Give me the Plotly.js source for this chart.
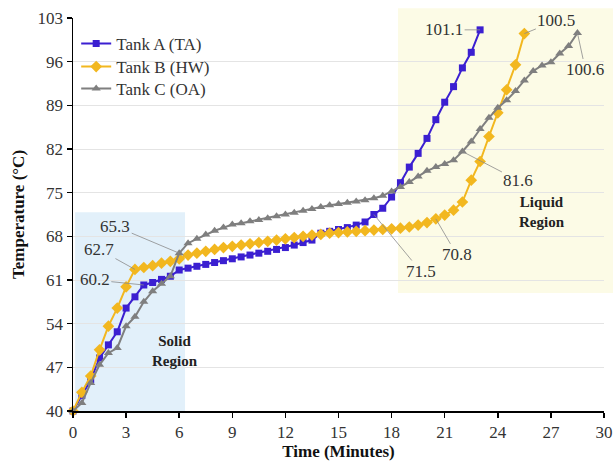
<!DOCTYPE html>
<html>
<head>
<meta charset="utf-8">
<script src="https://cdn.plot.ly/plotly-3.0.1.min.js"></script>
<style>html,body{margin:0;padding:0;background:#fff;}#chart{width:616px;height:462px;}</style>
</head>
<body>
<div id="chart"></div>
<script>
var seriesNames = ["Tank A (TA)", "Tank B (HW)", "Tank C (OA)"];

var timeA = [0,0.5,1,1.5,2,2.5,3,3.5,4,4.5,5,5.5,6,6.5,7,7.5,8,8.5,9,9.5,10,10.5,11,11.5,12,12.5,13,13.5,14,14.5,15,15.5,16,16.5,17,17.5,18,18.5,19,19.5,20,20.5,21,21.5,22,22.5,23];
var tempA = [40,42.5,45,48.5,50.6,52.7,56.5,58.3,60.2,60.6,61.1,61.6,62.6,62.9,63.2,63.5,63.8,64.1,64.4,64.7,65.0,65.3,65.6,65.9,66.2,66.6,67.0,67.4,68.5,68.8,69.1,69.4,69.8,70.3,71.5,72.5,74.3,76.6,79.1,81.3,83.7,86.7,89.5,92.0,95.0,97.5,101.1];

var timeB = [0,0.5,1,1.5,2,2.5,3,3.5,4,4.5,5,5.5,6,6.5,7,7.5,8,8.5,9,9.5,10,10.5,11,11.5,12,12.5,13,13.5,14,14.5,15,15.5,16,16.5,17,17.5,18,18.5,19,19.5,20,20.5,21,21.5,22,22.5,23,23.5,24,24.5,25,25.5];
var tempB = [40,43,45.6,49.8,53.6,56.5,59.9,62.7,63.0,63.3,63.7,64.0,64.4,65.0,65.3,65.6,65.9,66.2,66.4,66.6,66.8,67.0,67.2,67.4,67.6,67.8,68.0,68.2,68.3,68.5,68.6,68.7,68.8,68.9,69.0,69.1,69.2,69.3,69.5,69.8,70.2,70.8,71.4,72.2,73.5,77.0,80.0,84.0,87.8,91.5,95.5,100.5];

var timeC = [0,0.5,1,1.5,2,2.5,3,3.5,4,4.5,5,5.5,6,6.5,7,7.5,8,8.5,9,9.5,10,10.5,11,11.5,12,12.5,13,13.5,14,14.5,15,15.5,16,16.5,17,17.5,18,18.5,19,19.5,20,20.5,21,21.5,22,22.5,23,23.5,24,24.5,25,25.5,26,26.5,27,27.5,28,28.5];
var tempC = [40,41.3,44.5,47.4,49.3,50.1,53.6,55.1,57.5,59.2,60.4,61.6,65.3,66.9,67.6,68.3,68.9,69.4,69.9,70.1,70.4,70.6,70.9,71.2,71.5,71.8,72.1,72.4,72.7,73.0,73.2,73.4,73.6,73.8,74.1,74.5,75.2,75.9,76.7,77.6,78.5,79.1,79.6,80.2,81.6,83.2,85.2,87.0,88.6,89.8,91.3,93.0,94.5,95.4,95.9,97.3,98.5,100.6];

var yTicks = [40,47,54,61,68,75,82,89,96,103];
var xTicks = [0,3,6,9,12,15,18,21,24,27,30];

// callout labels
var calloutTime   = [4, 3.5, 6, 17, 20.5, 22, 23, 25.5, 28.5];
var calloutValue  = [60.2, 62.7, 65.3, 71.5, 70.8, 81.6, 101.1, 100.5, 100.6];

var regionLabels = ["Solid<br>Region", "Liquid<br>Region"];

var colors = ["#3b1fd1", "#f2b71f", "#7f7f7f"];
var symbols = ["square", "diamond", "triangle-up"];
var msizes = [7, 9, 8];
var serif = "'Liberation Serif', 'Times New Roman', serif";
var legendIds = ["legend", "legend2", "legend3"];
var legendY = [(411-44)/393, (411-67)/393, (411-89)/393];

var xs = [timeA, timeB, timeC];
var ys = [tempA, tempB, tempC];
var traces = [];
for (var i = 0; i < 3; i++) {
  traces.push({
    x: xs[i], y: ys[i], name: seriesNames[i], type: "scatter", mode: "lines+markers",
    line: {color: colors[i], width: 2},
    marker: {color: colors[i], symbol: symbols[i], size: msizes[i]},
    cliponaxis: false, legend: legendIds[i]
  });
}

var offsets = [[-49,-5],[-36,-20],[-64,-27],[47,57],[21,36],[56,29],[-36,0],[32,-13],[8,37]];
var annotations = [];
for (var k = 0; k < calloutTime.length; k++) {
  annotations.push({
    x: calloutTime[k], y: calloutValue[k], xref: "x", yref: "y",
    text: String(calloutValue[k].toFixed(1)),
    showarrow: true, arrowhead: 0, arrowwidth: 0.8, arrowcolor: "#8a8a8a",
    ax: offsets[k][0], ay: offsets[k][1], standoff: 0,
    font: {family: serif, size: 17, color: "#333333"}
  });
}
annotations.push({
  xref: "paper", yref: "paper", x: (150-73)/531, y: (411-371)/393, text: regionLabels[0],
  showarrow: false, font: {family: serif, size: 15, color: "#222222", weight: "bold"}
});
annotations.push({
  xref: "paper", yref: "paper", x: (567-73)/531, y: (411-212)/393, text: regionLabels[1],
  showarrow: false, font: {family: serif, size: 15, color: "#222222", weight: "bold"}
});

var layout = {
  width: 616, height: 462,
  margin: {l: 73, r: 12, t: 18, b: 51},
  paper_bgcolor: "#ffffff",
  plot_bgcolor: "rgba(0,0,0,0)",
  font: {family: serif},
  showlegend: true,
  xaxis: {
    range: [0, 30], tickvals: xTicks, ticktext: xTicks.map(String),
    showgrid: false, zeroline: false, showline: true, linecolor: "#000", linewidth: 1.5,
    ticks: "outside", ticklen: 5, tickcolor: "#000", tickwidth: 1.5,
    tickfont: {family: serif, size: 17, color: "#333333"},
    title: {text: "Time (Minutes)", font: {family: serif, size: 17, color: "#111", weight: "bold"}, standoff: 2}
  },
  yaxis: {
    range: [40, 103], tickvals: yTicks, ticktext: yTicks.map(String),
    showgrid: true, gridcolor: "#e4e4e4", gridwidth: 1, zeroline: false,
    showline: true, linecolor: "#000", linewidth: 1.5,
    ticks: "outside", ticklen: 5, tickcolor: "#000", tickwidth: 1.5,
    tickfont: {family: serif, size: 17, color: "#333333"},
    title: {text: "Temperature (°C)", font: {family: serif, size: 17, color: "#111", weight: "bold"}, standoff: 8}
  },
  shapes: [
    {type: "rect", xref: "paper", yref: "paper", x0: 0.004, x1: 0.211, y0: 0, y1: 0.506,
     fillcolor: "#e2f0fa", line: {width: 0}, layer: "below"},
    {type: "rect", xref: "paper", yref: "paper", x0: 0.612, x1: 1.017, y0: 0.300, y1: 1.025,
     fillcolor: "#fcfbe6", line: {width: 0}, layer: "below"}
  ],
  annotations: annotations
};
for (var j = 0; j < 3; j++) {
  layout[legendIds[j]] = {
    x: 0.006, y: legendY[j], xanchor: "left", yanchor: "middle", bgcolor: "rgba(0,0,0,0)",
    font: {family: serif, size: 17, color: "#333333"}, itemwidth: 30
  };
}

Plotly.newPlot("chart", traces, layout, {displayModeBar: false, staticPlot: true});
</script>
</body>
</html>
